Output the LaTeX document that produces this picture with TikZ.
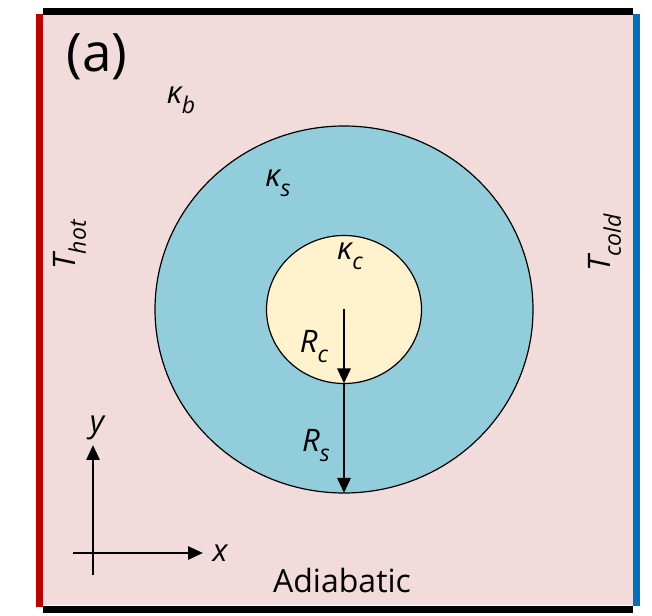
\documentclass[tikz,border=0pt]{standalone}
\usepackage{fontspec}
\setmainfont{Open Sans}
\usetikzlibrary{arrows.meta,shapes.geometric}
\definecolor{pinkbg}{HTML}{F2DCDB}
\definecolor{shellblue}{HTML}{92CDDC}
\definecolor{corecream}{HTML}{FFF2CC}
\definecolor{hotred}{HTML}{C00000}
\definecolor{coldblue}{HTML}{0070C0}
\newcommand{\sbs}[1]{\raisebox{-10pt}{\fontsize{23}{24}\selectfont\itshape #1}}

\begin{document}
\begin{tikzpicture}[x=1pt,y=1pt,>={Triangle[length=15pt,width=13pt]},
    lbl/.style={inner sep=0pt,font=\fontsize{31}{33}\selectfont\itshape},
    wall/.style={line width=7.5pt},
    axis/.style={->,line width=2.8pt}]
    \useasboundingbox (0,0) rectangle (652,615);
    % domain and boundaries
    \fill[pinkbg] (43,10) rectangle (633,600);
    \draw[wall,black] (43,603.5) -- (633,603.5);
    \draw[wall,black] (43,5.5) -- (633,5.5);
    \draw[wall,hotred] (39.5,8) -- (39.5,601);
    \draw[wall,coldblue] (636.5,9) -- (636.5,601);
    % shell and core
    \coordinate (ctr) at (344,305.5);
    \node[ellipse,draw,line width=1.2pt,fill=shellblue,inner sep=0pt,outer sep=0pt,minimum width=378pt,minimum height=367pt] (shell) at (ctr) {};
    \node[ellipse,draw,line width=1.2pt,fill=corecream,inner sep=0pt,outer sep=0pt,minimum width=155pt,minimum height=148pt] (core) at (ctr) {};
    \draw[->,line width=2.8pt] (core.center) -- (core.south);
    \draw[->,line width=2.8pt] (core.south) -- (shell.south);
    % labels
    \node[inner sep=0pt,font=\fontsize{53}{56}\selectfont] (tag) at (97,558) {(a)};
    \node[lbl] (kb) at (181,515) {κ\sbs{b}};
    \node[lbl] (ks) at (278,432) {κ\sbs{s}};
    \node[lbl] (kc) at (350,359) {κ\sbs{c}};
    \node[lbl] (rc) at (314,268) {R\sbs{c}};
    \node[lbl] (rs) at (316,169) {R\sbs{s}};
    \node[lbl,rotate=90] (thot) at (70,370) {T\sbs{hot}};
    \node[lbl,rotate=90] (tcold) at (605,372) {T\sbs{cold}};
    \node[inner sep=0pt,font=\fontsize{32}{34}\selectfont] (adia) at (342,35) {Adiabatic};
    % axes
    \coordinate (ybot) at (93,40);
    \coordinate (ytop) at (93,170);
    \coordinate (xlft) at (73,62);
    \coordinate (xrgt) at (203,62);
    \draw[axis] (ybot) -- (ytop);
    \draw[axis] (xlft) -- (xrgt);
    \node[lbl] (ylab) at (97,187) {y};
    \node[lbl] (xlab) at (220,62) {x};
\end{tikzpicture}
\end{document}
